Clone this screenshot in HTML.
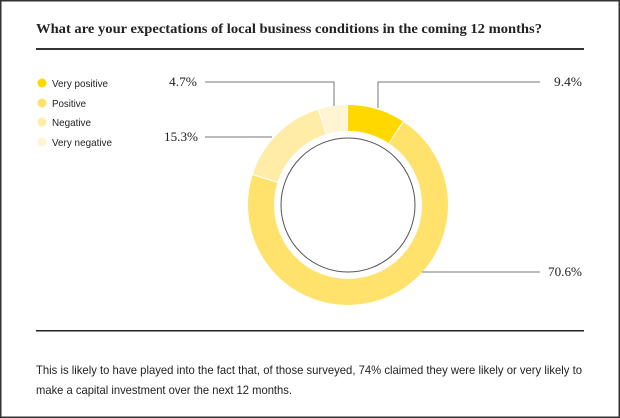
<!DOCTYPE html>
<html><head><meta charset="utf-8"><style>
html,body{margin:0;padding:0;background:#fff}
svg{display:block}
</style></head><body>
<svg width="620" height="418" viewBox="0 0 620 418" xmlns="http://www.w3.org/2000/svg">
<rect x="0.75" y="0.75" width="618.5" height="416.5" fill="#fff" stroke="#333" stroke-width="1.5"/>
<text x="36" y="33" font-family="Liberation Serif, serif" font-size="13.5" font-weight="bold" fill="#222" textLength="506" lengthAdjust="spacingAndGlyphs">What are your expectations of local business conditions in the coming 12 months?</text>
<rect x="36" y="48" width="548" height="2" fill="#333"/>
<rect x="36" y="330" width="548" height="1.5" fill="#222"/>
<g font-family="Liberation Sans Narrow, Liberation Sans, sans-serif" font-size="10.5" fill="#222">
<circle cx="42" cy="83" r="4.5" fill="#FFD800"/><text x="52" y="87" textLength="56" lengthAdjust="spacingAndGlyphs">Very positive</text>
<circle cx="42" cy="103" r="4.5" fill="#FFE26B"/><text x="52" y="107" textLength="34" lengthAdjust="spacingAndGlyphs">Positive</text>
<circle cx="42" cy="122" r="4.5" fill="#FFECA6"/><text x="52" y="126" textLength="39" lengthAdjust="spacingAndGlyphs">Negative</text>
<circle cx="42" cy="142" r="4.5" fill="#FFF5D3"/><text x="52" y="146" textLength="60" lengthAdjust="spacingAndGlyphs">Very negative</text>
</g>
<g transform="rotate(-90 348 205)" fill="none" stroke-width="26">
<circle cx="348" cy="205" r="87" stroke="#FFD800" stroke-dasharray="50.4 496.2" stroke-dashoffset="0"/>
<circle cx="348" cy="205" r="87" stroke="#FFE26B" stroke-dasharray="384.9 161.7" stroke-dashoffset="-51.4"/>
<circle cx="348" cy="205" r="87" stroke="#FFECA6" stroke-dasharray="82.6 464" stroke-dashoffset="-437.3"/>
<circle cx="348" cy="205" r="87" stroke="#FFF5D3" stroke-dasharray="24.7 521.9" stroke-dashoffset="-520.9"/>
</g>
<circle cx="348" cy="205" r="67" fill="none" stroke="#555" stroke-width="1"/>
<g stroke="#777" stroke-width="1" fill="none">
<polyline points="378,108 378,82 540,82"/>
<polyline points="334,106 334,82 205,82"/>
<polyline points="272,137 205,137"/>
<polyline points="422,272 540,272"/>
</g>
<g font-family="Liberation Serif, serif" font-size="12.5" fill="#222">
<text x="169" y="86" textLength="28" lengthAdjust="spacingAndGlyphs">4.7%</text>
<text x="582" y="86" text-anchor="end" textLength="28" lengthAdjust="spacingAndGlyphs">9.4%</text>
<text x="164" y="141" textLength="34" lengthAdjust="spacingAndGlyphs">15.3%</text>
<text x="582" y="276" text-anchor="end" textLength="34" lengthAdjust="spacingAndGlyphs">70.6%</text>
</g>
<g font-family="Liberation Sans Narrow, Liberation Sans, sans-serif" font-size="12" fill="#222">
<text x="36" y="374" textLength="546" lengthAdjust="spacingAndGlyphs">This is likely to have played into the fact that, of those surveyed, 74% claimed they were likely or very likely to</text>
<text x="36" y="394" textLength="256" lengthAdjust="spacingAndGlyphs">make a capital investment over the next 12 months.</text>
</g>
</svg>
</body></html>
